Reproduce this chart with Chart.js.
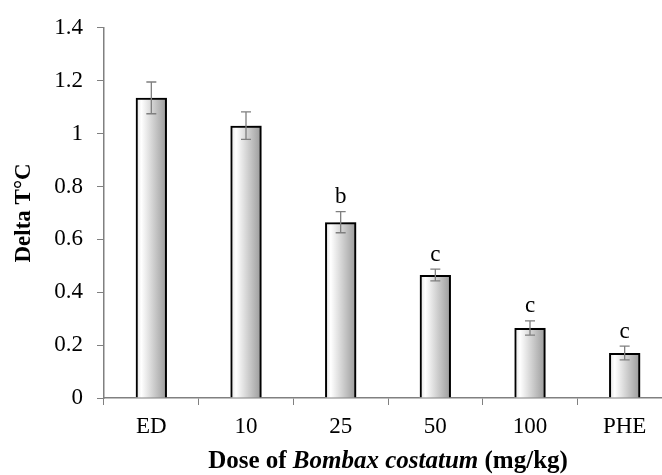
<!DOCTYPE html>
<html lang="en">
<head>
    <meta charset="UTF-8">
    <title>Delta T by dose</title>
    <style>
        body { margin: 0; overflow: hidden; background: #fff; }
        #wrap { width: 672px; height: 475px; }
    </style>
</head>
<body>
    <div id="wrap">
        <canvas id="myChart" width="672" height="475"></canvas>
    </div>
    <script src="https://cdn.jsdelivr.net/npm/chart.js"></script>
    <script>
        const doses = ['ED', '10', '25', '50', '100', 'PHE'];
        const deltaT = [1.135, 1.03, 0.665, 0.465, 0.265, 0.17];
        const sem = [0.06, 0.052, 0.04, 0.022, 0.027, 0.026];
        const letters = ['', '', 'b', 'c', 'c', 'c'];
        const yTicks = [0, 0.2, 0.4, 0.6, 0.8, 1, 1.2, 1.4];

        const serif = '"Liberation Serif", "Times New Roman", serif';

        // gradient fill behind each bar, the bar itself only draws its border
        const gradientBars = {
            id: 'gradientBars',
            beforeDatasetsDraw(chart) {
                const ctx = chart.ctx;
                chart.getDatasetMeta(0).data.forEach(bar => {
                    const left = bar.x - bar.width / 2;
                    const g = ctx.createLinearGradient(left, 0, left + bar.width, 0);
                    g.addColorStop(0, '#e0e0e0');
                    g.addColorStop(0.18, '#ffffff');
                    g.addColorStop(1, '#999999');
                    ctx.save();
                    ctx.fillStyle = g;
                    ctx.fillRect(left, bar.y, bar.width, bar.base - bar.y);
                    ctx.restore();
                });
            }
        };

        // error bars + significance letters
        const errorBars = {
            id: 'errorBars',
            afterDatasetsDraw(chart) {
                const ctx = chart.ctx;
                const y = chart.scales.y;
                ctx.save();
                ctx.strokeStyle = '#7f7f7f';
                ctx.lineWidth = 1.3;
                chart.getDatasetMeta(0).data.forEach((bar, i) => {
                    const top = y.getPixelForValue(deltaT[i] + sem[i]);
                    const bot = y.getPixelForValue(deltaT[i] - sem[i]);
                    ctx.beginPath();
                    ctx.moveTo(bar.x, top); ctx.lineTo(bar.x, bot);
                    ctx.moveTo(bar.x - 5, top); ctx.lineTo(bar.x + 5, top);
                    ctx.moveTo(bar.x - 5, bot); ctx.lineTo(bar.x + 5, bot);
                    ctx.stroke();
                    if (letters[i]) {
                        ctx.fillStyle = '#000';
                        ctx.font = '23px ' + serif;
                        ctx.textAlign = 'center';
                        ctx.textBaseline = 'bottom';
                        ctx.fillText(letters[i], bar.x, top - 3);
                    }
                });
                ctx.restore();
            }
        };

        // x title with italic species name
        const xTitle = {
            id: 'xTitle',
            afterDraw(chart) {
                const ctx = chart.ctx;
                const area = chart.chartArea;
                const parts = [
                    ['Dose of ', 'bold 25px ' + serif],
                    ['Bombax costatum', 'italic bold 25px ' + serif],
                    [' (mg/kg)', 'bold 25px ' + serif]
                ];
                ctx.save();
                let total = 0;
                parts.forEach(p => { ctx.font = p[1]; total += ctx.measureText(p[0]).width; });
                let x = (area.left + area.right) / 2 - total / 2;
                ctx.fillStyle = '#000';
                ctx.textBaseline = 'middle';
                parts.forEach(p => {
                    ctx.font = p[1];
                    ctx.fillText(p[0], x, 462);
                    x += ctx.measureText(p[0]).width;
                });
                ctx.restore();
            }
        };

        const ctx = document.getElementById('myChart');
        new Chart(ctx, {
            type: 'bar',
            data: {
                labels: doses,
                datasets: [{
                    data: deltaT,
                    backgroundColor: 'rgba(0,0,0,0)',
                    borderColor: '#000',
                    borderWidth: 2,
                    barPercentage: 0.66,
                    categoryPercentage: 0.5
                }]
            },
            options: {
                responsive: false,
                animation: false,
                layout: { padding: { top: 12, left: 0, right: 0, bottom: 0 } },
                scales: {
                    x: {
                        grid: { display: true, drawOnChartArea: false, drawTicks: true, tickLength: 7, color: '#808080' },
                        border: { color: '#808080', width: 1.5 },
                        ticks: { color: '#000', font: { family: serif, size: 23 }, padding: 8, maxRotation: 0 },
                        afterFit(s) { s.height = 77; }
                    },
                    y: {
                        min: 0,
                        max: 1.4,
                        afterBuildTicks(s) { s.ticks = yTicks.map(v => ({ value: v })); },
                        grid: { display: true, drawOnChartArea: false, drawTicks: true, tickLength: 7, color: '#808080' },
                        border: { color: '#808080', width: 1.5 },
                        ticks: {
                            color: '#000',
                            font: { family: serif, size: 23 },
                            padding: 14,
                            callback: v => String(v)
                        },
                        title: { display: true, text: 'Delta T°C', color: '#000', font: { family: serif, size: 23, weight: 'bold' }, padding: { top: 10, bottom: 0 } },
                        afterFit(s) { s.width = 104; }
                    }
                },
                plugins: {
                    legend: { display: false },
                    tooltip: { enabled: false }
                }
            },
            plugins: [gradientBars, errorBars, xTitle]
        });
    </script>
</body>
</html>
